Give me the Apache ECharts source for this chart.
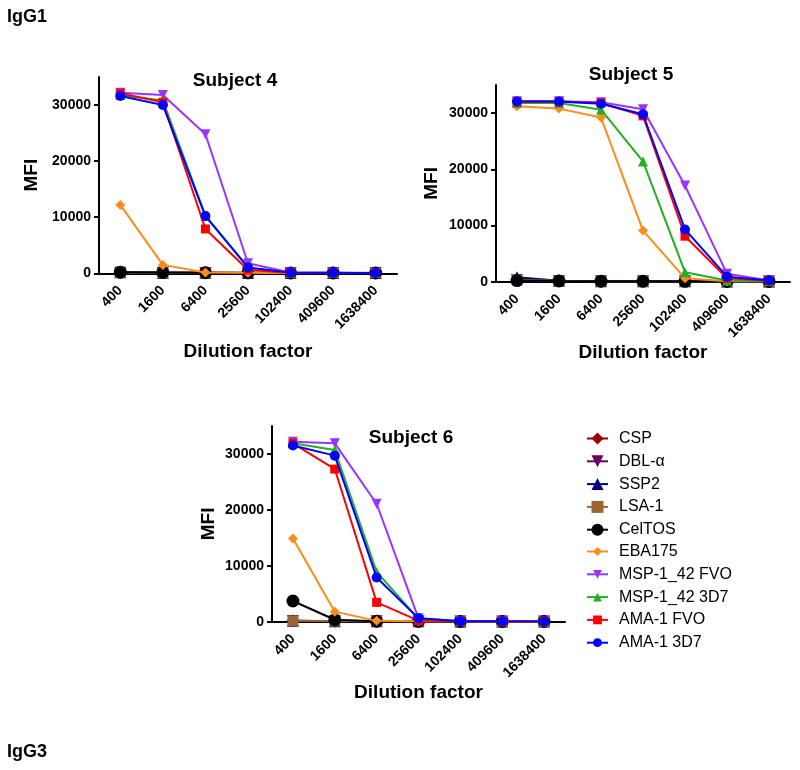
<!DOCTYPE html>
<html>
<head>
<meta charset="utf-8">
<script src="https://cdn.jsdelivr.net/npm/echarts@6/dist/echarts.min.js"></script>
<style>
html,body{margin:0;padding:0;background:#fff;}
#chart{width:800px;height:770px;}
</style>
</head>
<body>
<div id="chart"></div>
<script>
// ---------- data ----------
const categories = ['400', '1600', '6400', '25600', '102400', '409600', '1638400'];
const antigens = ['CSP', 'DBL-α', 'SSP2', 'LSA-1', 'CelTOS', 'EBA175', 'MSP-1_42 FVO', 'MSP-1_42 3D7', 'AMA-1 FVO', 'AMA-1 3D7'];
const yTicks = [0, 10000, 20000, 30000];

// rows follow the antigen order
const subject4 = [
  [150, 100, 80, 60, 50, 50, 50],
  [120, 80, 60, 50, 50, 50, 50],
  [200, 100, 80, 60, 50, 50, 50],
  [150, 100, 80, 60, 50, 50, 50],
  [200, 150, 100, 80, 50, 50, 50],
  [12200, 1500, 150, 80, 60, 50, 50],
  [32200, 31800, 24800, 1800, 150, 80, 60],
  [31800, 30800, 10300, 1000, 120, 80, 60],
  [32100, 30500, 7900, 600, 100, 60, 50],
  [31600, 30000, 10200, 1050, 120, 80, 60]
];
const subject5 = [
  [400, 150, 100, 100, 80, 60, 50],
  [300, 120, 100, 80, 60, 50, 50],
  [800, 150, 100, 80, 60, 50, 50],
  [350, 150, 100, 80, 60, 50, 50],
  [200, 120, 100, 80, 60, 50, 50],
  [31200, 30800, 29200, 9100, 600, 100, 80],
  [32100, 32100, 31950, 30700, 17100, 1400, 200],
  [31800, 31800, 30600, 21400, 1700, 200, 100],
  [32000, 32000, 31800, 29500, 8100, 600, 150],
  [32050, 32050, 31650, 29800, 9300, 900, 200]
];
const subject6 = [
  [150, 100, 80, 60, 50, 50, 50],
  [120, 100, 80, 60, 50, 50, 50],
  [150, 100, 80, 60, 50, 50, 50],
  [150, 120, 80, 60, 50, 50, 50],
  [3700, 350, 80, 60, 50, 50, 50],
  [14900, 1800, 150, 80, 60, 50, 50],
  [32200, 31900, 21100, 600, 100, 60, 50],
  [31900, 30700, 8900, 500, 100, 60, 50],
  [31900, 27300, 3450, 200, 80, 50, 50],
  [31500, 29700, 7900, 600, 100, 60, 50]
];
const subjects = [subject4, subject5, subject6];
const subjectTitles = ['Subject 4', 'Subject 5', 'Subject 6'];

// ---------- styles ----------
const FONT = '"Liberation Sans", Arial, sans-serif';
const colors = ['#990000', '#660066', '#000080', '#996633', '#000000', '#FF8C1A', '#9933FF', '#22B022', '#FF0000', '#0000FF'];
const symbols = ['diamond', 'triangle', 'triangle', 'rect', 'circle', 'diamond', 'triangle', 'triangle', 'rect', 'circle'];
const rotations = [0, 180, 0, 0, 0, 0, 180, 0, 0, 0];
const sizes = [13, 12, 12, 11, 13, 10, 10, 10, 9, 10];

const grids = [
  { left: 99, top: 77, width: 298, height: 196.3 },
  { left: 496, top: 85, width: 294, height: 196.7 },
  { left: 272, top: 426, width: 293, height: 195.7 }
];
const xNameGaps = [69, 55, 58];
const yNameGaps = [58, 55, 54];
const titlePos = [[235, 81], [631, 75], [411, 438]];

const xAxes = grids.map((g, i) => ({
  type: 'category',
  gridIndex: i,
  data: categories,
  boundaryGap: true,
  name: 'Dilution factor',
  nameLocation: 'middle',
  nameGap: xNameGaps[i],
  nameTextStyle: { fontFamily: FONT, fontSize: 19, fontWeight: 'bold', color: '#000' },
  axisLine: { lineStyle: { color: '#000', width: 2 } },
  axisTick: { show: true, alignWithLabel: true, length: 4, lineStyle: { color: '#000', width: 2 } },
  axisLabel: { rotate: 45, margin: 15, interval: 0, fontFamily: FONT, fontSize: 14, fontWeight: 'bold', color: '#000' },
  splitLine: { show: false }
}));

const yAxes = grids.map((g, i) => ({
  type: 'value',
  gridIndex: i,
  min: 0,
  max: 35000,
  name: 'MFI',
  nameLocation: 'middle',
  nameRotate: 90,
  nameGap: yNameGaps[i],
  nameTextStyle: { fontFamily: FONT, fontSize: 19, fontWeight: 'bold', color: '#000' },
  axisLine: { show: true, lineStyle: { color: '#000', width: 2 } },
  axisTick: { show: true, length: 5, customValues: yTicks, lineStyle: { color: '#000', width: 2 } },
  axisLabel: { customValues: yTicks, margin: 8, formatter: v => String(v), fontFamily: FONT, fontSize: 14, fontWeight: 'bold', color: '#000' },
  splitLine: { show: false }
}));

const series = [];
subjects.forEach((rows, si) => {
  rows.forEach((vals, ai) => {
    series.push({
      type: 'line',
      name: antigens[ai],
      xAxisIndex: si,
      yAxisIndex: si,
      data: vals,
      symbol: symbols[ai],
      symbolRotate: rotations[ai],
      symbolSize: sizes[ai],
      showAllSymbol: true,
      color: colors[ai],
      lineStyle: { color: colors[ai], width: 2 },
      itemStyle: { color: colors[ai] },
      z: 2 + ai,
      animation: false
    });
  });
});

const legendText = { fontFamily: FONT, fontSize: 16, color: '#000', padding: [0, 0, 0, 6] };
const legends = [
  {
    orient: 'vertical', left: 586, top: 430.5,
    itemWidth: 21, itemHeight: 15, itemGap: 6.8,
    data: antigens.slice(0, 5), textStyle: legendText, padding: 0
  },
  {
    orient: 'vertical', left: 586, top: 543.5,
    itemWidth: 21, itemHeight: 11, itemGap: 6.8,
    data: antigens.slice(5), textStyle: legendText, padding: 0
  }
];

const graphics = subjectTitles.map((t, i) => ({
  type: 'text',
  x: titlePos[i][0], y: titlePos[i][1],
  style: { text: t, font: 'bold 19px ' + FONT, fill: '#000', align: 'center', verticalAlign: 'middle' }
}));
graphics.push({ type: 'text', x: 7, y: 17, style: { text: 'IgG1', font: 'bold 18px ' + FONT, fill: '#000', align: 'left', verticalAlign: 'middle' } });
graphics.push({ type: 'text', x: 7, y: 752, style: { text: 'IgG3', font: 'bold 18px ' + FONT, fill: '#000', align: 'left', verticalAlign: 'middle' } });

const chart = echarts.init(document.getElementById('chart'), null, { renderer: 'canvas' });
chart.setOption({
  backgroundColor: '#fff',
  animation: false,
  grid: grids,
  xAxis: xAxes,
  yAxis: yAxes,
  legend: legends,
  graphic: graphics,
  series: series
});
</script>
</body>
</html>
